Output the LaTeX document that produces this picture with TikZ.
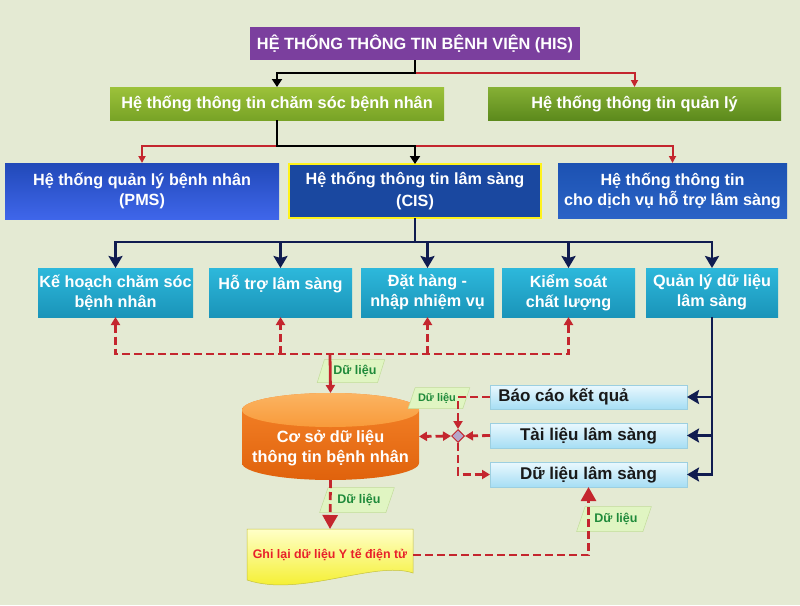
\documentclass[tikz,border=0pt]{standalone}
\usepackage{fontspec}
\setmainfont{Liberation Sans}
\usetikzlibrary{arrows.meta,shapes.geometric,calc}
\definecolor{bgc}{HTML}{E4EAD3}
\definecolor{hisp}{HTML}{7B3F9E}
\definecolor{g1t}{HTML}{9CC23A}
\definecolor{g1b}{HTML}{78A326}
\definecolor{g2t}{HTML}{86B035}
\definecolor{g2b}{HTML}{5C8A1C}
\definecolor{pmst}{HTML}{2149B8}
\definecolor{pmsb}{HTML}{3F66EA}
\definecolor{cisc}{HTML}{1A48A0}
\definecolor{thdt}{HTML}{1C52B2}
\definecolor{thdb}{HTML}{2B63C6}
\definecolor{cyt}{HTML}{2DB8DB}
\definecolor{cyb}{HTML}{1A94B9}
\definecolor{lct}{HTML}{EAF8FE}
\definecolor{lcb}{HTML}{A6DEF4}
\definecolor{lcd}{HTML}{9CCFE0}
\definecolor{navy}{HTML}{101C50}
\definecolor{rd}{HTML}{C4262E}
\definecolor{lblf}{HTML}{E0F5C2}
\definecolor{lbld}{HTML}{C2DC9A}
\definecolor{lblt}{HTML}{1F8A3A}
\definecolor{ort}{HTML}{F5842A}
\definecolor{orb}{HTML}{E0620C}
\definecolor{ortop}{HTML}{F89A3A}
\definecolor{ortop2}{HTML}{FBB462}
\definecolor{yt}{HTML}{FFFFC8}
\definecolor{yb}{HTML}{F2EC12}
\definecolor{ehrt}{HTML}{E8202A}
\definecolor{dmf}{HTML}{B4A6CA}
\begin{document}
\begin{tikzpicture}[x=1pt,y=-1pt,
  bx/.style={draw=none, inner sep=0pt, outer sep=0pt, anchor=north west, align=center,
    font=\bfseries\fontsize{16.3}{19}\selectfont, text=white},
  hisbox/.style={bx, fill=hisp},
  grnA/.style={bx, top color=g1t, bottom color=g1b},
  grnB/.style={bx, top color=g2t, bottom color=g2b},
  bluebox/.style={bx, font=\bfseries\fontsize{16.2}{20}\selectfont},
  cybox/.style={bx, top color=cyt, bottom color=cyb, font=\bfseries\fontsize{16.2}{20}\selectfont},
  lcbox/.style={bx, top color=lct, bottom color=lcb, draw=lcd, line width=0.6pt, text=black!90,
    font=\bfseries\fontsize{17}{19}\selectfont},
  lbl/.style={trapezium, trapezium left angle=62, trapezium right angle=118, trapezium stretches=true,
    fill=lblf, draw=lbld, line width=0.5pt, text=lblt, inner sep=1pt,
    font=\bfseries\fontsize{12.5}{14}\selectfont},
  blk/.style={draw=black, line width=2.8pt, -{Triangle[width=10pt,length=8pt]}},
  rthin/.style={draw=rd, line width=2pt, -{Triangle[width=7pt,length=7pt]}},
  nvy/.style={draw=navy, line width=2.8pt, -{Stealth[width=14pt,length=12pt,inset=2pt]}},
  rdash/.style={draw=rd, line width=2.8pt, dash pattern=on 8pt off 4pt},
  rtip/.style={-{Triangle[width=9pt,length=8pt]}},
  bigtip/.style={-{Triangle[width=15pt,length=14pt]}}
]
\useasboundingbox (0,0) rectangle (800,605);
\fill[bgc] (0,0) rectangle (800,605);

% top level
\node[hisbox, minimum width=330, minimum height=33] (his) at (250,27) {HỆ THỐNG THÔNG TIN BỆNH VIỆN (HIS)};
\node[grnA, minimum width=334, minimum height=33] (g1) at (110,87) {Hệ thống thông tin chăm sóc bệnh nhân};
\node[grnB, minimum width=293, minimum height=33] (g2) at (488,87) {Hệ thống thông tin quản lý};

\node[bluebox, top color=pmst, bottom color=pmsb, minimum width=274, minimum height=56] (pms) at (5,163) {Hệ thống quản lý bệnh nhân\\(PMS)};
\node[bluebox, fill=cisc, draw=yellow!90!white, line width=2pt, minimum width=252, minimum height=54] (cis) at (289,164) {\raisebox{3pt}{\shortstack{Hệ thống thông tin lâm sàng\\[3pt](CIS)}}};
\node[bluebox, top color=thdt, bottom color=thdb, minimum width=229, minimum height=55] (thd) at (558,163) {Hệ thống thông tin\\cho dịch vụ hỗ trợ lâm sàng};

\node[cybox, minimum width=155, minimum height=49] (c1) at (38,268) {Kế hoạch chăm sóc\\bệnh nhân};
\node[cybox, minimum width=143, minimum height=49] (c2) at (209,268) {Hỗ trợ lâm sàng\\\mbox{}};
\node[cybox, minimum width=133, minimum height=49] (c3) at (361,268) {Đặt hàng -\\nhập nhiệm vụ};
\node[cybox, minimum width=133, minimum height=49] (c4) at (502,268) {Kiểm soát\\chất lượng};
\node[cybox, minimum width=132, minimum height=49] (c5) at (646,268) {Quản lý dữ liệu\\lâm sàng};

\node[lcbox, minimum width=197, minimum height=24] (r1) at (490,385) {\hspace*{-50pt}Báo cáo kết quả};
\node[lcbox, minimum width=197, minimum height=25] (r2) at (490,423) {Tài liệu lâm sàng};
\node[lcbox, minimum width=197, minimum height=25] (r3) at (490,462) {Dữ liệu lâm sàng};

% connectors top
\draw[rthin] ($(his.south)+(0,13)$) -| (g2.north);
\draw[blk] (his.south) -- ++(0,13) -| (g1.north);
\draw[rthin] ($(g1.south)+(0,26)$) -| (pms.north);
\draw[rthin] ($(g1.south)+(0,26)$) -| (thd.north);
\draw[blk] (g1.south) -- ++(0,26) -| (cis.north);

\draw[nvy] (cis.south) -- ++(0,24) -| (c1.north);
\draw[nvy] (cis.south) -- ++(0,24) -| (c2.north);
\draw[nvy] (cis.south) -- ++(0,24) -| (c3.north);
\draw[nvy] (cis.south) -- ++(0,24) -| (c4.north);
\draw[nvy] (cis.south) -- ++(0,24) -| (c5.north);

\draw[nvy] (c5.south) |- (r1.east);
\draw[nvy] (c5.south) |- (r2.east);
\draw[nvy] (c5.south) |- (r3.east);

% cylinder
\path[top color=ort, bottom color=orb] (242,410) -- (242,463)
  arc[start angle=180, end angle=0, x radius=88.5, y radius=17] -- (419,410)
  arc[start angle=0, end angle=-180, x radius=88.5, y radius=17] -- cycle;
\path[top color=ortop2, bottom color=ortop] (330.5,410) ellipse[x radius=88.5, y radius=17];
\node[inner sep=0pt, outer sep=0pt, minimum width=177, minimum height=87] (db) at (330.5,436.5) {};
\node[inner sep=0pt, align=center, text=white, font=\bfseries\fontsize{16.3}{20}\selectfont] (dbtext) at (330.5,448) {Cơ sở dữ liệu\\thông tin bệnh nhân};

% yellow document
\path[top color=yt, bottom color=yb, draw=yb!60!gray, line width=0.5pt] (247,529) -- (413,529) -- (413,573)
  .. controls (375,560) and (300,598) .. (247,580) -- cycle;
\node[inner sep=0pt, outer sep=0pt, minimum width=166, minimum height=52, text=ehrt,
  font=\bfseries\fontsize{12.4}{14}\selectfont] (ehr) at (330,555) {Ghi lại dữ liệu Y tế điện tử};

% labels
\node[lbl, minimum width=65, minimum height=23] (l1) at (351,371) {\hspace*{8pt}Dữ liệu};
\node[lbl, minimum width=62, minimum height=21, font=\bfseries\fontsize{11}{12}\selectfont] (l2) at (439,398) {Dữ liệu\hspace*{4pt}};
\node[lbl, minimum width=75, minimum height=25] (l3) at (357,500) {\hspace*{4pt}Dữ liệu};
\node[lbl, minimum width=75, minimum height=25] (l4) at (614,519) {\hspace*{4pt}Dữ liệu};

% diamond
\node[diamond, draw=rd, fill=dmf, line width=1pt, minimum width=13, minimum height=13, inner sep=0pt] (dm) at (458,436) {};

% feedback dashed
\coordinate (fb) at (330,354);
\draw[rdash, {Triangle[width=9pt,length=8pt]}-{Triangle[width=9pt,length=8pt]}] (c1.south) -- (c1.south |- fb) -- (c4.south |- fb) -- (c4.south);
\draw[rdash, rtip] (c2.south |- fb) -- (c2.south);
\draw[rdash, rtip] (c3.south |- fb) -- (c3.south);
\draw[draw=rd, line width=2.8pt, -{Triangle[width=9pt,length=8pt]}] (fb) -- (db.north);

% diamond connections
\draw[rdash, rtip] (r1.west) -| (dm.north);
\draw[rdash, rtip] (r2.west) -- (dm.east);
\draw[rdash, {Triangle[width=9pt,length=8pt]}-{Triangle[width=9pt,length=8pt]}] (dm.west) -- (db.east);
\draw[rdash, rtip] (dm.south) |- (r3.west);

% big arrows
\draw[rdash, bigtip] (db.south) -- (ehr.north);
\draw[rdash, bigtip] (ehr.east) -| (r3.south);
\end{tikzpicture}
\end{document}
